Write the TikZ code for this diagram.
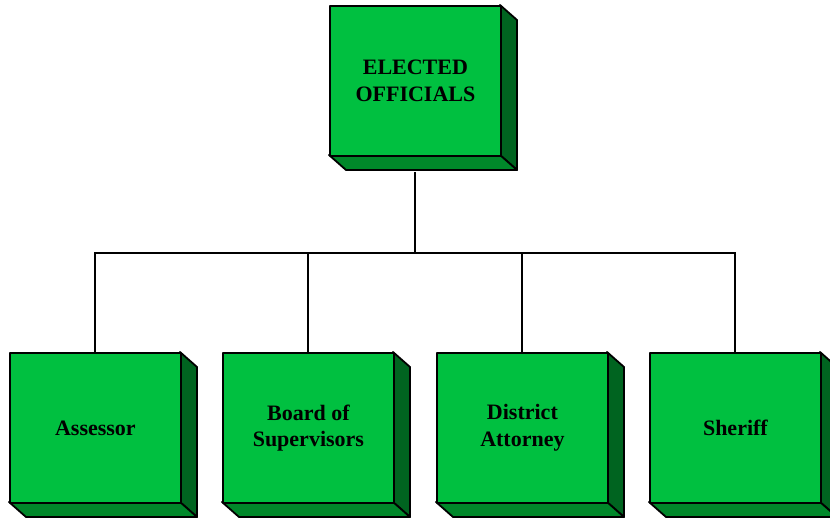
\documentclass[tikz,border=0pt]{standalone}
\usepackage{fontspec}
\setmainfont{Liberation Serif}
\begin{document}
\begin{tikzpicture}[x=1pt,y=-1pt,
  frontc/.style={fill=front,draw=black,line width=1.8pt,line join=round},
  box/.style={minimum width=171pt,minimum height=150pt,inner sep=0pt,frontc,
    font=\fontsize{22}{26.5}\selectfont\bfseries,align=center,text=black},
  conn/.style={draw=black,line width=1.9pt}]
\definecolor{front}{HTML}{00C040}
\definecolor{sidec}{HTML}{006420}
\definecolor{botc}{HTML}{00882A}
\useasboundingbox (0,0) rectangle (830,518);
\newcommand{\cube}[4]{% name, left x, top y, text
  \fill[sidec,draw=black,line width=1.8pt,line join=round] (#2+171,#3) -- ++(17,15) -- ++(0,150) -- ++(-17,-15) -- cycle;
  \fill[botc,draw=black,line width=1.8pt,line join=round] (#2,#3+150) -- ++(171,0) -- ++(17,15) -- ++(-171,0) -- cycle;
  \node[box,anchor=north west] (#1) at (#2,#3) {#4};
}
\cube{top}{329}{5}{ELECTED\\OFFICIALS}
\cube{a}{9}{352}{Assessor}
\cube{b}{222}{352}{Board of\\Supervisors}
\cube{c}{436}{352}{District\\Attorney}
\cube{d}{649}{352}{Sheriff}
\coordinate (j) at (top.south |- 0,253);
\draw[conn] ([yshift=-15pt]top.south) -- (j);
\draw[conn] (a.north) |- (j) -| (d.north);
\draw[conn] (b.north) -- (b.north |- j);
\draw[conn] (c.north) -- (c.north |- j);
\end{tikzpicture}
\end{document}
